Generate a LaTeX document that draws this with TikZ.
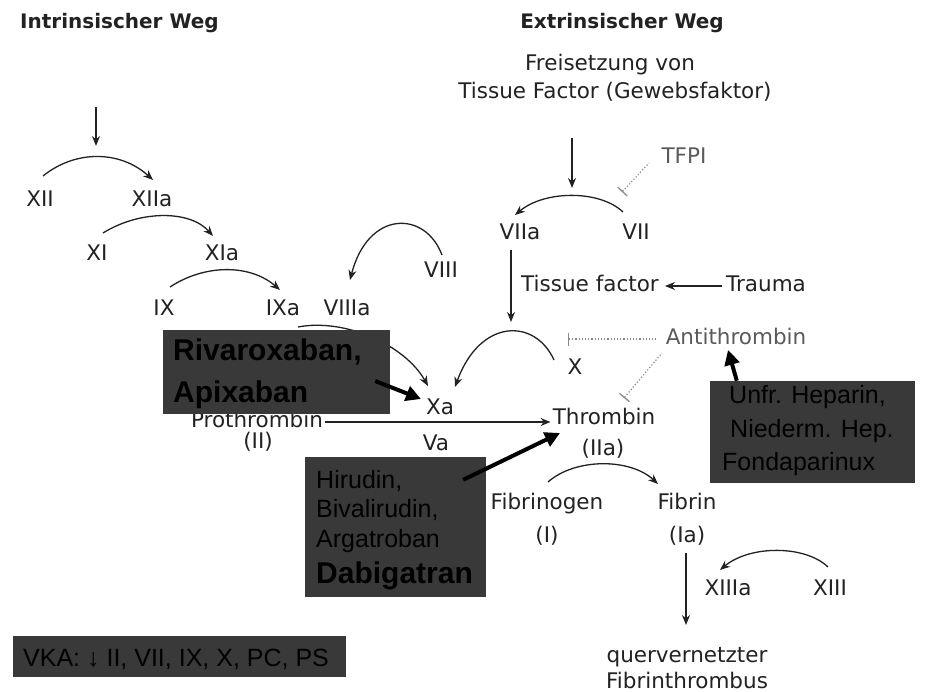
\documentclass[tikz,border=0pt]{standalone}
\usepackage{fontspec}
\setmainfont{DejaVu Sans}
\newfontfamily\boxfont{Liberation Sans}
\usetikzlibrary{arrows.meta}
\definecolor{ink}{HTML}{222222}
\definecolor{faded}{HTML}{5A5A5A}
\definecolor{dotgray}{HTML}{8A8A8A}
\definecolor{boxgray}{HTML}{393939}

\begin{document}
\begin{tikzpicture}[x=1pt,y=-1pt,
  lbl/.style={font=\fontsize{21.5}{25}\selectfont, text=ink, inner sep=2pt,
              text height=15pt, text depth=4pt},
  soft/.style={lbl, text=faded},
  heading/.style={font=\bfseries\fontsize{20}{24}\selectfont, text=ink, inner sep=0pt},
  arr/.style={-{Stealth[length=10pt,width=8pt]}, line width=1.3pt, draw=ink},
  blockline/.style={{Bar[width=13pt,line width=1.3pt]}-, dotted, line width=1.2pt, draw=dotgray},
  gbox/.style={fill=boxgray, draw=none, inner sep=0pt},
  boxtxt/.style={font=\boxfont\fontsize{25}{29}\selectfont, text=black, inner sep=0pt, anchor=base west},
  boxbold/.style={font=\boxfont\bfseries\fontsize{30}{34}\selectfont, text=black, inner sep=0pt, anchor=base west},
  drugarr/.style={-{Triangle[length=15pt,width=15pt]}, line width=4pt, draw=black},
]
\useasboundingbox (0,0) rectangle (933,692);

% ---- headings ----
\node[heading, anchor=west] (tIn) at (20,23) {Intrinsischer Weg};
\node[heading] (tEx) at (622,23) {Extrinsischer Weg};
\node[lbl] (frei) at (610,65) {Freisetzung von};
\node[lbl] (gewebe) at (615,93) {Tissue Factor (Gewebsfaktor)};

% ---- intrinsic pathway ----
\node[lbl] (XII) at (40,201) {XII};
\node[lbl] (XIIa) at (152,201) {XIIa};
\node[lbl] (XI) at (97,255) {XI};
\node[lbl] (XIa) at (222,255) {XIa};
\node[lbl] (IX) at (164,310) {IX};
\node[lbl] (IXa) at (283,310) {IXa};
\node[lbl] (VIIIa) at (347,310) {VIIIa};
\node[lbl] (VIII) at (441,272) {VIII};

\coordinate (inTop) at (96,107);
\coordinate (inEnd) at (96,146);
\draw[arr] (inTop) -- (inEnd);

\draw[arr] ([shift={(3,-25)}]XII.center) .. controls +(32,-26) and +(-33,-30) .. ([shift={(1,-21)}]XIIa.center);
\draw[arr] ([shift={(6,-22)}]XI.center) .. controls +(37,-23) and +(-23,-26) .. ([shift={(-9,-19)}]XIa.center);
\draw[arr] ([shift={(6,-23)}]IX.center) .. controls +(35,-23) and +(-30,-26) .. ([shift={(-3,-20)}]IXa.center);
\draw[arr] ([shift={(1,-17)}]VIII.center) .. controls +(-17,-45) and +(18,-70) .. ([shift={(3,-30)}]VIIIa.center);

% ---- extrinsic pathway ----
\node[soft] (TFPI) at (684,158) {TFPI};
\node[lbl] (VIIa) at (520,234) {VIIa};
\node[lbl] (VII) at (636,234) {VII};
\node[lbl] (TF) at (590,286) {Tissue factor};
\node[lbl] (Trauma) at (766,286) {Trauma};
\node[lbl] (X) at (575,369) {X};
\node[soft] (AT) at (736,339) {Antithrombin};

\coordinate (exTop) at (572,138);
\coordinate (exEnd) at (572,188);
\draw[arr] (exTop) -- (exEnd);
\draw[arr] ([shift={(-13,-22)}]VII.center) .. controls +(-23,-22) and +(30,-25) .. ([shift={(-5,-19)}]VIIa.center);
\draw[blockline] ([shift={(-14,-42)}]VII.center) -- ([shift={(-35,5)}]TFPI.center);

\coordinate (tfEnd) at (511,322);
\draw[arr] ([shift={(-9,16)}]VIIa.center) -- (tfEnd);
\draw[arr, shorten <=2pt, shorten >=4pt] (Trauma.west) -- (TF.east);

% ---- common pathway ----
\node[lbl] (Xa) at (440,409) {Xa};
\node[lbl] (Pro) at (257,422) {Prothrombin};
\node[lbl] (II) at (258,443) {(II)};
\node[lbl] (Va) at (436,445) {Va};
\node[lbl] (Thr) at (604,419) {Thrombin};
\node[lbl] (IIa) at (603,450) {(IIa)};

\draw[arr] ([shift={(15,17)}]IXa.center) .. controls (345,318) and (405,345) .. ([shift={(-12,-23)}]Xa.center);
\draw[arr] ([shift={(-21,-9)}]X.center) .. controls +(-19,-42) and +(25,-69) .. ([shift={(15,-22)}]Xa.center);
\draw[blockline] ([shift={(-7,-30)}]X.center) -- ([shift={(-80,0)}]AT.center);
\draw[blockline] ([shift={(20,-21)}]Thr.center) -- ([shift={(-74,14)}]AT.center);
\draw[arr] (Pro.east) -- (Pro.east -| Thr.west);

\node[lbl] (Fgen) at (547,504) {Fibrinogen};
\node[lbl] (I) at (547,537) {(I)};
\node[lbl] (Fib) at (687,504) {Fibrin};
\node[lbl] (Ia) at (687,537) {(Ia)};
\node[lbl] (XIIIa) at (728,590) {XIIIa};
\node[lbl] (XIII) at (830,590) {XIII};
\node[lbl] (quer) at (687,657) {quervernetzter};
\node[lbl] (thromb) at (687,683) {Fibrinthrombus};

\draw[arr] ([shift={(1,-22)}]Fgen.center) .. controls +(27,-24) and +(-28,-26) .. ([shift={(-29,-20)}]Fib.center);
\draw[arr] ([shift={(-1,16)}]Ia.center) -- ([shift={(-1,-32)}]quer.center);
\draw[arr] ([shift={(-2,-23)}]XIII.center) .. controls +(-23,-22) and +(30,-25) .. ([shift={(-8,-20)}]XIIIa.center);

% ---- drug boxes ----
\node[gbox, minimum width=227pt, minimum height=84pt] (riva) at (276.5,372) {};
\node[boxbold] (rivaA) at (173,360) {Rivaroxaban,};
\node[boxbold] (rivaB) at (173,402) {Apixaban};

\node[gbox, minimum width=181pt, minimum height=140pt] (hiru) at (395.5,527) {};
\node[boxtxt] (hiruA) at (316,488) {Hirudin,};
\node[boxtxt] (hiruB) at (316,517) {Bivalirudin,};
\node[boxtxt] (hiruC) at (316,547) {Argatroban};
\node[boxbold] (hiruD) at (316,583) {Dabigatran};

\node[gbox, minimum width=205pt, minimum height=102pt] (hep) at (812.5,432) {};
\node[boxtxt] (hepA) at (729,403) {Unfr. Heparin,};
\node[boxtxt] (hepB) at (730,437) {Niederm. Hep.};
\node[boxtxt] (hepC) at (722,470) {Fondaparinux};

\node[gbox, minimum width=333pt, minimum height=41pt] (vka) at (179.5,656.5) {};
\node[boxtxt] (vkaA) at (23,666) {VKA: ↓ II, VII, IX, X, PC, PS};

% ---- drug arrows ----
\draw[drugarr] ([shift={(-15,9)}]riva.east) -- ([shift={(-19,-10)}]Xa.center);
\draw[drugarr] ([shift={(-23,23)}]hiru.north east) -- ([shift={(-44,14)}]Thr.center);
\draw[drugarr] ([shift={(27,0)}]hep.north west) -- ([shift={(-8,11)}]AT.center);
\end{tikzpicture}
\end{document}
